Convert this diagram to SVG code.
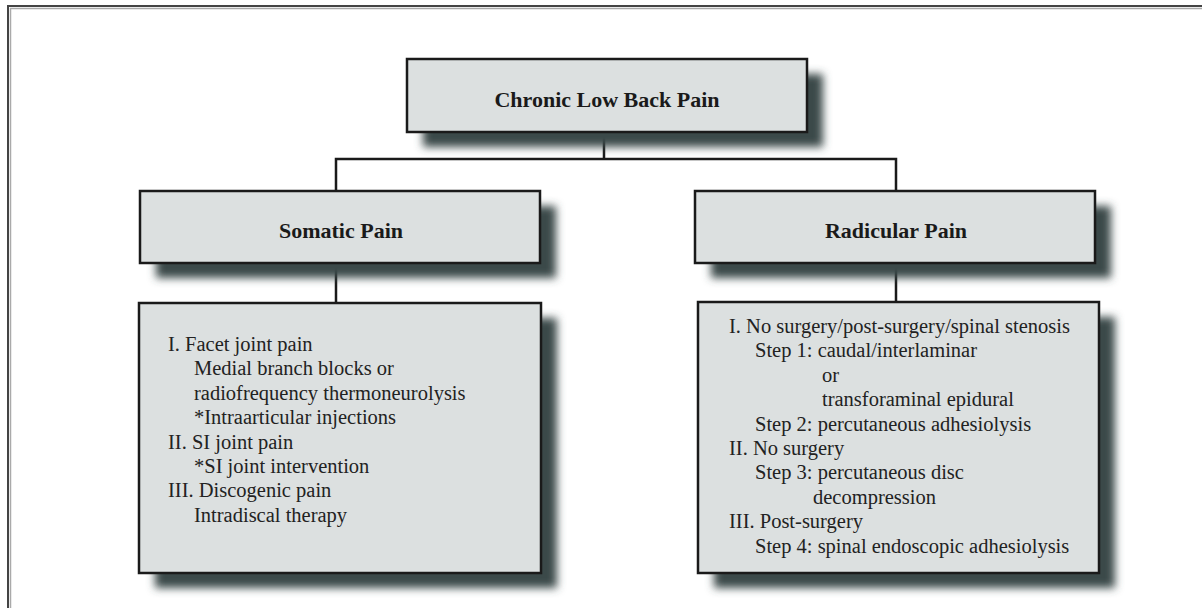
<svg xmlns="http://www.w3.org/2000/svg" width="1202" height="608" viewBox="0 0 1202 608">
  <defs>
    <filter id="blur" x="-20%" y="-20%" width="140%" height="140%">
      <feGaussianBlur stdDeviation="4"/>
    </filter>
  </defs>
  <style>
    .shadow { fill: #3a4a4a; filter: url(#blur); }
    .box { fill: #dce0e0; stroke: #1a1a1a; stroke-width: 2.5; }
    .head { font-family: "Liberation Serif", "Times New Roman", serif; font-weight: bold; font-size: 22px; fill: #1a1a1a; text-anchor: middle; }
    .body { font-family: "Liberation Serif", "Times New Roman", serif; font-size: 20.5px; fill: #222; }
    .conn { fill: none; stroke: #1a1a1a; stroke-width: 2.5; }
    .frame { fill: none; stroke: #444; stroke-width: 2; }
    .frame2 { fill: none; stroke: #aaa; stroke-width: 1.5; }
  </style>
  <rect width="1202" height="608" fill="#fff"/>
  <path class="frame" d="M8,608 V6 H1202"/>
  <path class="frame2" d="M10.5,608 V8.5 H1202"/>

  <g id="connectors">
    <path class="conn" d="M604,132 V159"/>
    <path class="conn" d="M336,191 V159 H896 V191"/>
    <path class="conn" d="M336,263 V303"/>
    <path class="conn" d="M896,263 V302"/>
  </g>

  <g id="chronic">
    <rect class="shadow" x="423" y="74" width="400" height="73"/>
    <rect class="box" x="407" y="59" width="400" height="73"/>
    <text class="head" x="607" y="107" font-size="21.5">Chronic Low Back Pain</text>
  </g>

  <g id="somatic">
    <rect class="shadow" x="156" y="206" width="400" height="72"/>
    <rect class="box" x="140" y="191" width="400" height="72"/>
    <text class="head" x="341" y="238">Somatic Pain</text>
  </g>

  <g id="radicular">
    <rect class="shadow" x="711" y="206" width="400" height="72"/>
    <rect class="box" x="695" y="191" width="400" height="72"/>
    <text class="head" x="896" y="238">Radicular Pain</text>
  </g>

  <g id="somatic-detail">
    <rect class="shadow" x="155" y="318" width="402" height="270"/>
    <rect class="box" x="139" y="303" width="402" height="270"/>
    <text class="body" x="168" y="351">I. Facet joint pain</text>
    <text class="body" x="194" y="375.4">Medial branch blocks or</text>
    <text class="body" x="194" y="399.8">radiofrequency thermoneurolysis</text>
    <text class="body" x="194" y="424.2">*Intraarticular injections</text>
    <text class="body" x="168" y="448.6">II. SI joint pain</text>
    <text class="body" x="194" y="473">*SI joint intervention</text>
    <text class="body" x="168" y="497.4">III. Discogenic pain</text>
    <text class="body" x="194" y="521.8">Intradiscal therapy</text>
  </g>

  <g id="radicular-detail">
    <rect class="shadow" x="714" y="317" width="401" height="271"/>
    <rect class="box" x="698" y="302" width="401" height="271"/>
    <text class="body" x="729" y="333">I. No surgery/post-surgery/spinal stenosis</text>
    <text class="body" x="755" y="357.4">Step 1: caudal/interlaminar</text>
    <text class="body" x="822" y="381.8">or</text>
    <text class="body" x="822" y="406.2">transforaminal epidural</text>
    <text class="body" x="755" y="430.6">Step 2: percutaneous adhesiolysis</text>
    <text class="body" x="729" y="455">II. No surgery</text>
    <text class="body" x="755" y="479.4">Step 3: percutaneous disc</text>
    <text class="body" x="813" y="503.8">decompression</text>
    <text class="body" x="729" y="528.2">III. Post-surgery</text>
    <text class="body" x="755" y="552.6">Step 4: spinal endoscopic adhesiolysis</text>
  </g>
</svg>
